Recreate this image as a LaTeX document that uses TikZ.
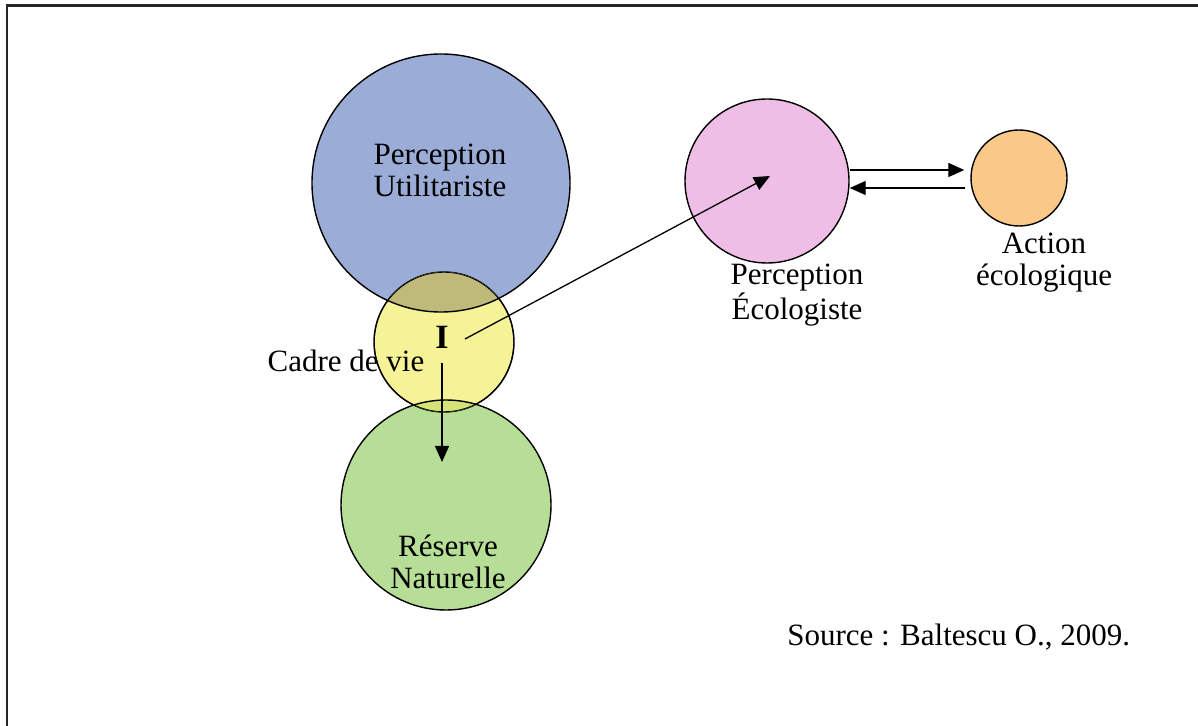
\documentclass[tikz,border=0pt]{standalone}
\usepackage{fontspec}
\setmainfont{Liberation Serif}
\usepackage{xcolor}
\usetikzlibrary{positioning,arrows.meta}
\definecolor{utilblue}{RGB}{155,172,214}
\definecolor{cadreyel}{RGB}{246,242,150}
\definecolor{resgreen}{RGB}{183,222,150}
\definecolor{ecopink}{RGB}{238,190,230}
\definecolor{actorange}{RGB}{250,200,135}
\definecolor{mixolive}{RGB}{192,186,122}
\definecolor{mixlime}{RGB}{212,228,118}

\begin{document}
\begin{tikzpicture}[
  x=0.5pt,y=-0.5pt,
  disc/.style={circle,draw=black,line width=0.7pt,inner sep=0pt},
  lbl/.style={font=\fontsize{15.5}{16}\selectfont,align=center,inner sep=0pt},
  ar/.style={-{Triangle[length=8pt,width=7pt]},line width=0.65pt}
]
\useasboundingbox (0,0) rectangle (1198,726);
\draw[line width=1.2pt,black!85] (7,726) -- (7,5.5) -- (1198,5.5);

% circles
\node[disc,fill=utilblue,minimum size=129pt] (pu) at (441,183) {};
\node[disc,fill=resgreen,minimum size=105pt] (rn) at (446,505) {};
\node[disc,fill=cadreyel,minimum size=70pt] (cv) at (444,342) {};
\node[disc,fill=ecopink,minimum size=82pt] (pe) at (767,181) {};
\node[disc,fill=actorange,minimum size=48pt] (ae) at (1019,178) {};

% overlaps
\begin{scope}
  \clip (cv.center) circle[radius=35pt];
  \fill[mixolive] (pu.center) circle[radius=64.5pt];
  \fill[mixlime] (rn.center) circle[radius=52.5pt];
  \draw[line width=0.7pt] (pu.center) circle[radius=64.5pt];
  \draw[line width=0.7pt] (rn.center) circle[radius=52.5pt];
  \draw[line width=0.7pt] (cv.center) circle[radius=35pt];
\end{scope}

% labels
\node[lbl] (pu-t) at (440,170) {Perception\\Utilitariste};
\node[lbl,font=\fontsize{17}{18}\selectfont\bfseries] (I) at (442,337) {I};
\node[lbl] (cv-t) at (346,361) {Cadre de vie};
\node[lbl] (rn-t) at (448,562) {Réserve\\Naturelle};
\node[lbl] (pe-t) at (797,295) {Perception\\Écologiste};
\node[lbl] (ae-t) at (1044,263) {Action\\écologique};
\node[lbl,anchor=west] (src) at (787,637) {Source : Baltescu O., 2009.};

% arrows
\coordinate (i-out) at (465,339);
\coordinate (pe-in) at (770,176);
\coordinate (rn-in) at (442,462);
\draw[ar] (i-out) -- (pe-in);
\draw[ar] ([yshift=-7pt]I.south) -- (rn-in);
\draw[ar,shorten >=3pt] ([yshift=5.5pt]pe.east) -- ([yshift=5.5pt]pe.east -| ae.west);
\draw[ar,shorten <=2.5pt] ([yshift=-3.5pt]pe.east -| ae.west) -- ([yshift=-3.5pt]pe.east);
\end{tikzpicture}
\end{document}
